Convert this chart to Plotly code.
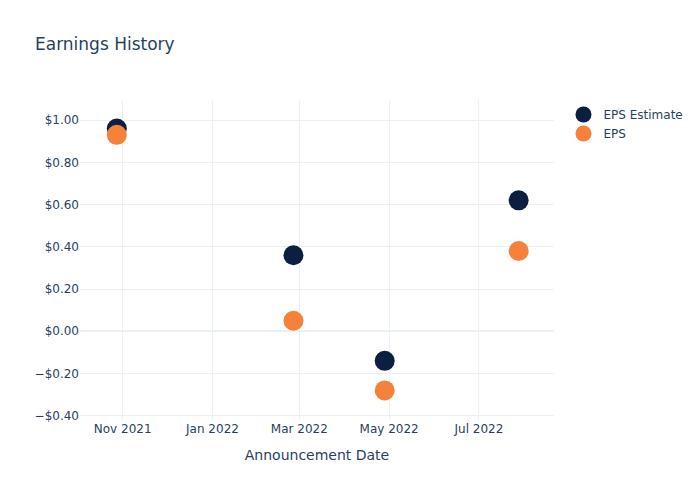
import plotly.graph_objects as go

dates = ["2021-10-28", "2022-02-25", "2022-04-28", "2022-07-28"]
eps_estimate = [0.96, 0.36, -0.14, 0.62]
eps_actual = [0.93, 0.05, -0.28, 0.38]

fig = go.Figure()
fig.add_trace(go.Scatter(x=dates, y=eps_estimate, mode="markers", name="EPS Estimate",
                         marker=dict(size=20, color="#0b1f40")))
fig.add_trace(go.Scatter(x=dates, y=eps_actual, mode="markers", name="EPS",
                         marker=dict(size=20, color="#f5813a")))
fig.update_layout(
    template="plotly_white",
    width=700, height=500,
    font=dict(family="DejaVu Sans"),
    title=dict(text="Earnings History"),
    xaxis=dict(title=dict(text="Announcement Date"), range=["2021-10-03", "2022-08-21"]),
    yaxis=dict(tickformat="$.2f", range=[-0.42, 1.095]),
)
fig.write_html("out.html")
